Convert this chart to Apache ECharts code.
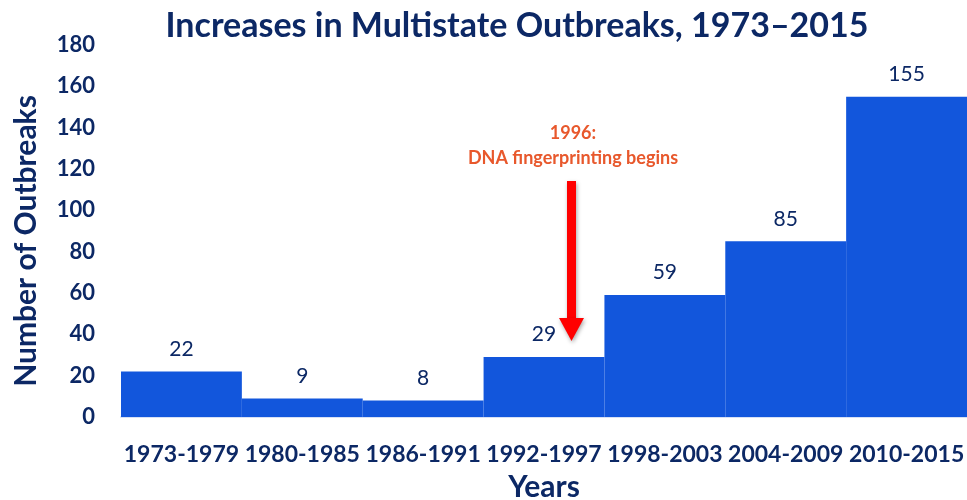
<!DOCTYPE html>
<html>
<head>
<meta charset="utf-8">
<script src="https://cdn.jsdelivr.net/npm/echarts@6/dist/echarts.min.js"></script>
<style>
  html, body { margin: 0; padding: 0; background: #fff; }
  #Chart { width: 967px; height: 500px; }
</style>
</head>
<body>
<div id="Chart"></div>
<script>
  // periods and outbreak counts
  var periods = ['1973-1979', '1980-1985', '1986-1991', '1992-1997', '1998-2003', '2004-2009', '2010-2015']
  var outbreaks = [22, 9, 8, 29, 59, 85, 155]

  var navy = '#0c2865'
  var font = 'Lato'

  var Chart = echarts.init(document.getElementById('Chart'))
  Chart.setOption({
    animation: false,
    title: {
      text: 'Increases in Multistate Outbreaks, 1973\u20132015',
      left: 512,
      textAlign: 'center',
      top: 4,
      textStyle: { color: navy, fontFamily: font, fontWeight: 'bold', fontSize: 34 }
    },
    grid: { left: 121, right: 0, top: 45, bottom: 83, outerBoundsMode: 'none', containLabel: false },
    xAxis: {
      type: 'category',
      data: periods,
      name: 'Years',
      nameLocation: 'middle',
      nameGap: 55,
      nameTextStyle: { color: navy, fontFamily: font, fontWeight: 'bold', fontSize: 30 },
      axisLine: { lineStyle: { color: '#d6e0f5', width: 2 } },
      axisTick: { show: false },
      axisLabel: { color: navy, fontFamily: font, fontWeight: 'bold', fontSize: 23, margin: 26, interval: 0 }
    },
    yAxis: {
      type: 'value',
      min: 0,
      max: 180,
      interval: 20,
      name: 'Number of Outbreaks',
      nameLocation: 'middle',
      nameGap: 80,
      nameTextStyle: { color: navy, fontFamily: font, fontWeight: 'bold', fontSize: 30, padding: [0, 20, 0, 0] },
      splitLine: { show: false },
      axisLine: { show: false },
      axisTick: { show: false },
      axisLabel: { color: navy, fontFamily: font, fontWeight: 'bold', fontSize: 22, margin: 26 }
    },
    series: [{
      type: 'bar',
      data: outbreaks,
      barCategoryGap: 0,
      itemStyle: { color: '#1256dc' },
      label: {
        show: true,
        position: 'top',
        distance: 12,
        color: navy,
        fontFamily: font,
        fontSize: 21
      }
    }],
    graphic: [
      {
        type: 'text',
        x: 573,
        y: 121,
        style: {
          text: '1996:\nDNA fingerprinting begins',
          textAlign: 'center',
          fill: '#e8582c',
          font: 'bold 18px Lato',
          lineHeight: 25
        }
      },
      {
        type: 'rect',
        shape: { x: 567, y: 181, width: 9, height: 139 },
        style: { fill: '#ff0000', shadowBlur: 4, shadowColor: 'rgba(0,0,0,0.35)', shadowOffsetX: 1, shadowOffsetY: 2 }
      },
      {
        type: 'polygon',
        shape: { points: [[559, 318], [584, 318], [571.5, 341]] },
        style: { fill: '#ff0000', shadowBlur: 4, shadowColor: 'rgba(0,0,0,0.35)', shadowOffsetX: 1, shadowOffsetY: 2 }
      }
    ]
  })
</script>
</body>
</html>
